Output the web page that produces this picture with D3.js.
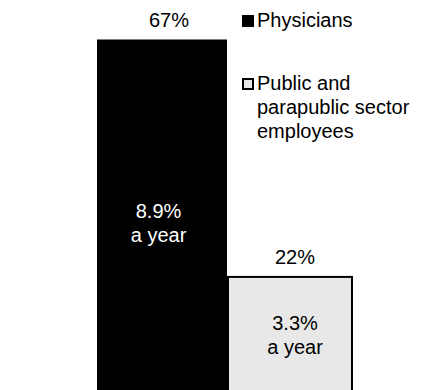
<!DOCTYPE html>
<html>
<head>
<meta charset="utf-8">
<script src="https://cdn.jsdelivr.net/npm/d3@7"></script>
<style>
  html, body { margin: 0; padding: 0; background: #fff; }
  svg { display: block; font-family: "Liberation Sans", Arial, sans-serif; }
</style>
</head>
<body>
<script>
// Share of growth, by group
const groups = ["Physicians", "Public and parapublic sector employees"];
const shares = [67, 22];
const shareLabels = ["67%", "22%"];
const rateLabels = [["8.9%", "a year"], ["3.3%", "a year"]];
const legendLines = [["Physicians"], ["Public and", "parapublic sector", "employees"]];

const W = 421, H = 390;
const fills = ["#000000", "#e8e8e8"];
const innerText = ["#ffffff", "#000000"];

const svg = d3.select("body").append("svg").attr("width", W).attr("height", H);

const x = d3.scaleBand().domain(groups).range([97, 357]).padding(0);
const y = d3.scaleLinear().domain([0, 67]).range([393, 39.5]);

const data = groups.map((g, i) => ({ g, v: shares[i], lab: shareLabels[i], rate: rateLabels[i], i }));

// Bars
svg.selectAll("rect.bar").data(data).join("rect")
  .attr("class", "bar")
  .attr("x", d => d.i === 0 ? x(d.g) : x(d.g) + 1)
  .attr("width", d => d.i === 0 ? x.bandwidth() : x.bandwidth() - 6)
  .attr("y", d => y(d.v))
  .attr("height", d => y(0) - y(d.v) + 5)
  .attr("fill", d => fills[d.i])
  .attr("stroke", d => d.i === 0 ? "none" : "#000")
  .attr("stroke-width", 2);

// Share labels above bars
const topDx = [7, 3];
svg.selectAll("text.share").data(data).join("text")
  .attr("class", "share")
  .attr("x", d => x(d.g) + x.bandwidth() / 2 + topDx[d.i])
  .attr("y", d => y(d.v) - 12.5)
  .attr("text-anchor", "middle")
  .attr("font-size", 20)
  .attr("fill", "#000")
  .text(d => d.lab);

// Annual growth labels inside bars
const inDx = [-3.5, 3];
const inY = [218, 330];
data.forEach(d => {
  const t = svg.append("text")
    .attr("text-anchor", "middle")
    .attr("font-size", 20)
    .attr("fill", innerText[d.i]);
  d.rate.forEach((line, k) => {
    t.append("tspan")
      .attr("x", x(d.g) + x.bandwidth() / 2 + inDx[d.i])
      .attr("y", inY[d.i] + k * 24)
      .text(line);
  });
});

// Legend
const legY = [27, 90];
legendLines.forEach((lines, i) => {
  svg.append("rect")
    .attr("x", i === 0 ? 242 : 243)
    .attr("y", i === 0 ? legY[i] - 12 : legY[i] - 11)
    .attr("width", i === 0 ? 12 : 10)
    .attr("height", i === 0 ? 12 : 10)
    .attr("fill", fills[i])
    .attr("stroke", i === 0 ? "none" : "#000")
    .attr("stroke-width", 2);
  const t = svg.append("text").attr("font-size", 20).attr("fill", "#000");
  lines.forEach((line, k) => {
    t.append("tspan").attr("x", 257).attr("y", legY[i] + k * 24).text(line);
  });
});
</script>
</body>
</html>
